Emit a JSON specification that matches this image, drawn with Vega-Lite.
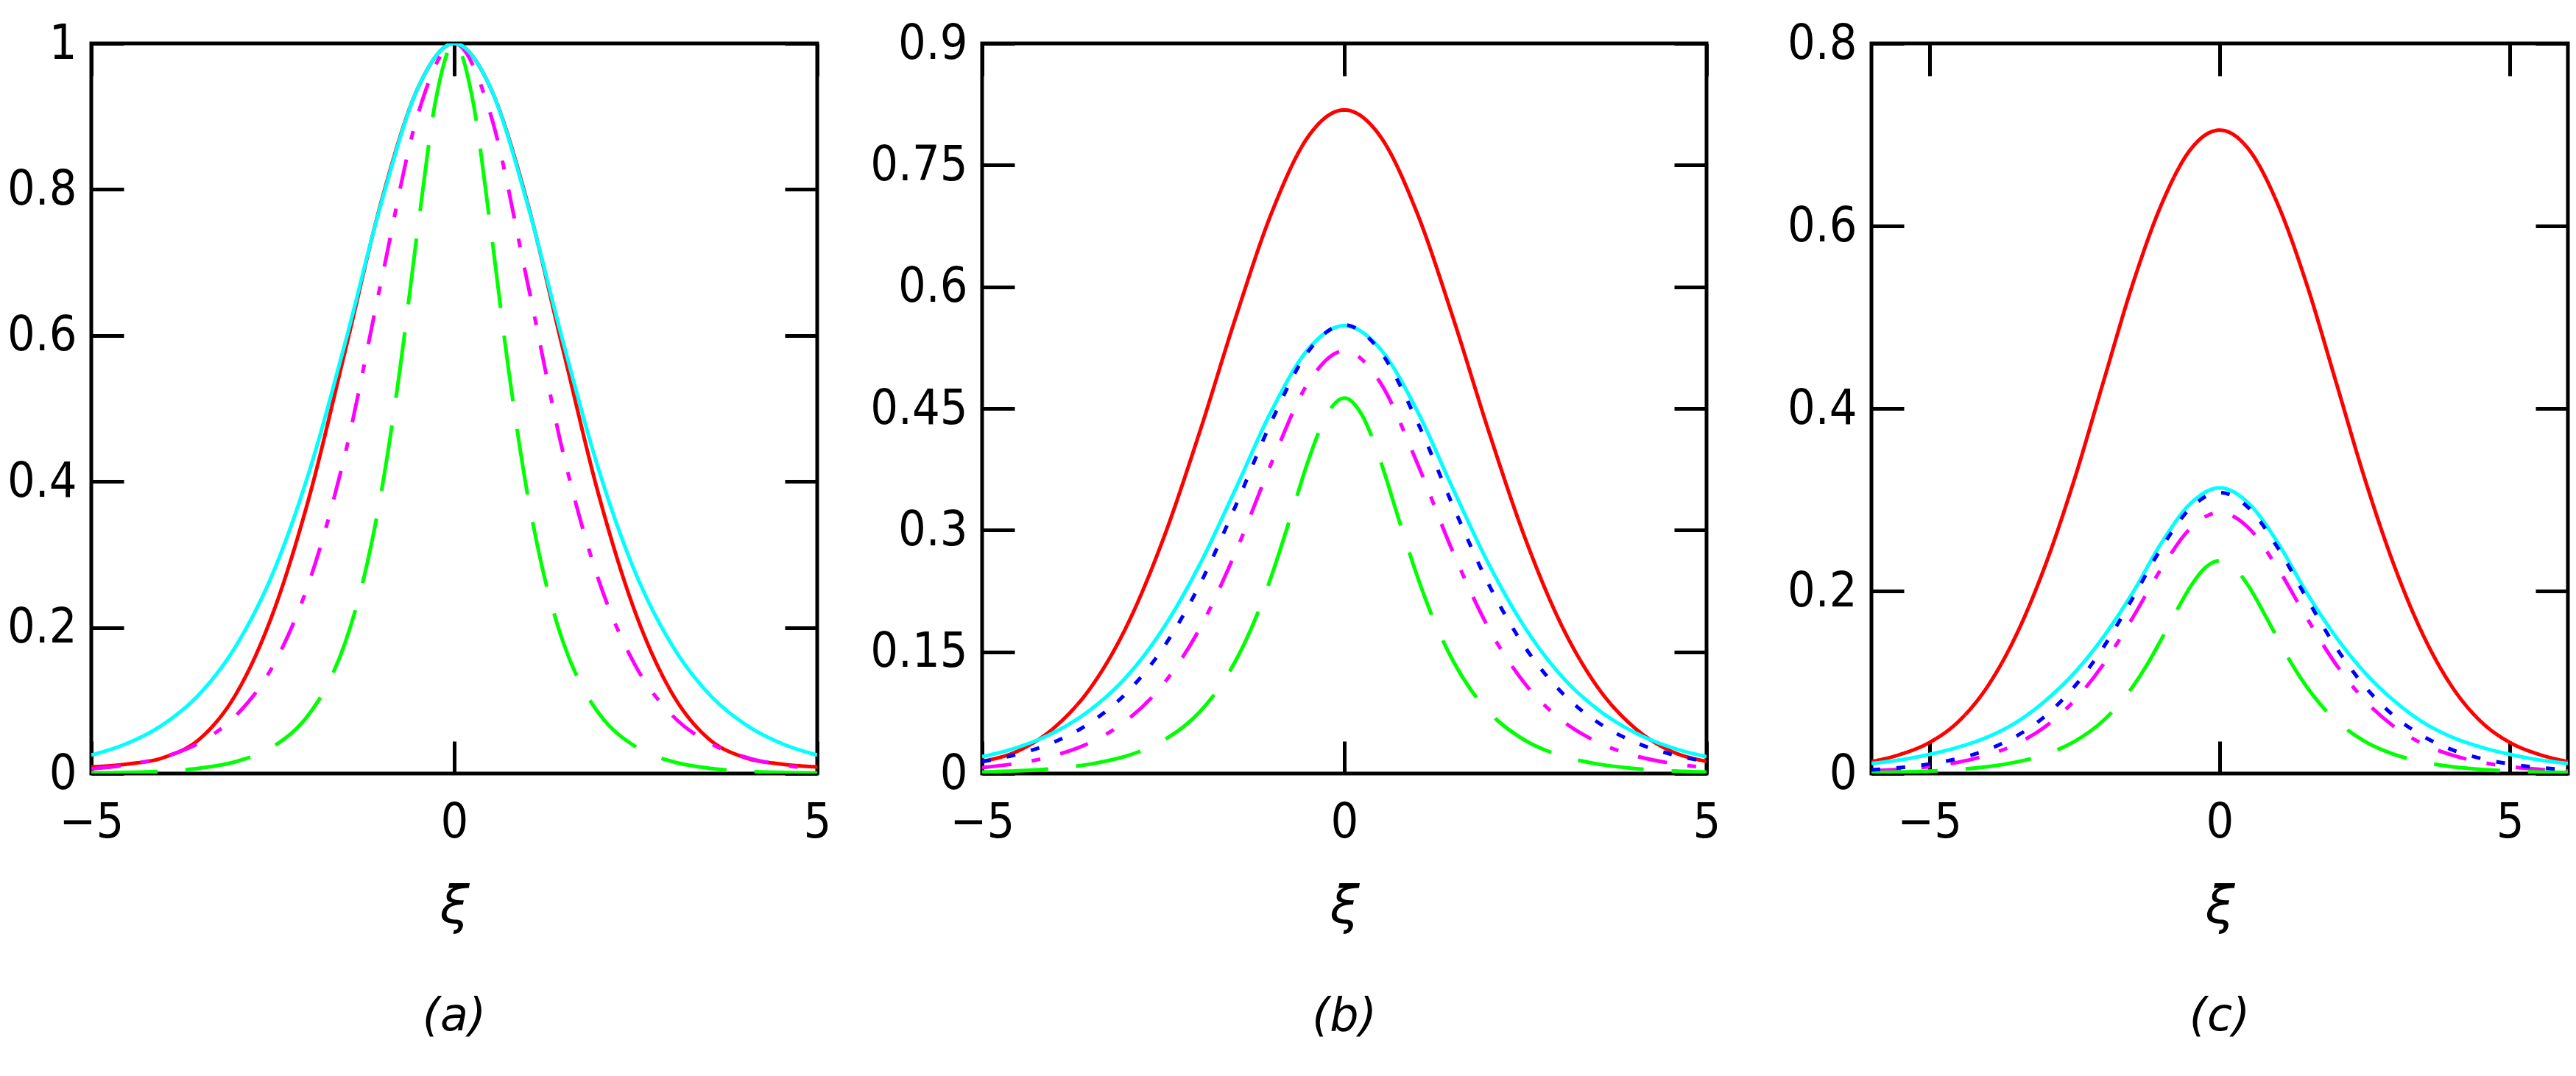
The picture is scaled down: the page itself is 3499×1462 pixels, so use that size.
{
  "$schema": "https://vega.github.io/schema/vega-lite/v6.json",
  "background": "white",
  "padding": {"left": 7, "top": 23, "right": 5, "bottom": 5},
  "spacing": 224,
  "bounds": "flush",
  "config": {
    "view": {"stroke": "black", "strokeWidth": 5},
    "axis": {
      "domain": false, "grid": false,
      "tickSize": -44, "tickWidth": 5, "tickColor": "black",
      "labelFont": "DejaVu Sans Condensed, Liberation Sans Narrow, DejaVu Sans",
      "labelFontSize": 66, "labelColor": "black",
      "labelFlush": false, "labelOverlap": false,
      "titleFont": "DejaVu Sans", "titleFontStyle": "italic", "titleFontWeight": "normal",
      "titleFontSize": 72, "titleColor": "black"
    },
    "axisY": {"labelPadding": 64},
    "axisX": {"labelPadding": 78, "titlePadding": 46},
    "title": {"font": "DejaVu Sans", "fontStyle": "italic", "fontWeight": "normal", "fontSize": 62, "color": "black", "orient": "bottom", "frame": "group", "offset": 84}
  },
  "datasets": {
    "A": [
      {"x": -5, "y": 0.009, "s": "red"}, {"x": -4.5, "y": 0.013, "s": "red"}, {"x": -4, "y": 0.022, "s": "red"}, {"x": -3.5, "y": 0.048, "s": "red"}, {"x": -3, "y": 0.11, "s": "red"}, {"x": -2.5, "y": 0.219, "s": "red"}, {"x": -2, "y": 0.378, "s": "red"}, {"x": -1.5, "y": 0.58, "s": "red"}, {"x": -1, "y": 0.785, "s": "red"}, {"x": -0.5, "y": 0.939, "s": "red"}, {"x": 0, "y": 1, "s": "red"}, {"x": 0.5, "y": 0.939, "s": "red"}, {"x": 1, "y": 0.785, "s": "red"}, {"x": 1.5, "y": 0.58, "s": "red"}, {"x": 2, "y": 0.378, "s": "red"}, {"x": 2.5, "y": 0.219, "s": "red"}, {"x": 3, "y": 0.11, "s": "red"}, {"x": 3.5, "y": 0.048, "s": "red"}, {"x": 4, "y": 0.022, "s": "red"}, {"x": 4.5, "y": 0.013, "s": "red"}, {"x": 5, "y": 0.009, "s": "red"},
      {"x": -5, "y": 0.0063, "s": "magenta"}, {"x": -4.5, "y": 0.012, "s": "magenta"}, {"x": -4, "y": 0.0227, "s": "magenta"}, {"x": -3.5, "y": 0.0428, "s": "magenta"}, {"x": -3, "y": 0.08, "s": "magenta"}, {"x": -2.5, "y": 0.147, "s": "magenta"}, {"x": -2, "y": 0.262, "s": "magenta"}, {"x": -1.5, "y": 0.439, "s": "magenta"}, {"x": -1, "y": 0.677, "s": "magenta"}, {"x": -0.5, "y": 0.903, "s": "magenta"}, {"x": 0, "y": 1, "s": "magenta"}, {"x": 0.5, "y": 0.903, "s": "magenta"}, {"x": 1, "y": 0.677, "s": "magenta"}, {"x": 1.5, "y": 0.439, "s": "magenta"}, {"x": 2, "y": 0.262, "s": "magenta"}, {"x": 2.5, "y": 0.147, "s": "magenta"}, {"x": 3, "y": 0.08, "s": "magenta"}, {"x": 3.5, "y": 0.0428, "s": "magenta"}, {"x": 4, "y": 0.0227, "s": "magenta"}, {"x": 4.5, "y": 0.012, "s": "magenta"}, {"x": 5, "y": 0.0063, "s": "magenta"},
      {"x": -5, "y": 0.0007, "s": "green"}, {"x": -4.5, "y": 0.0015, "s": "green"}, {"x": -4, "y": 0.0033, "s": "green"}, {"x": -3.5, "y": 0.0074, "s": "green"}, {"x": -3, "y": 0.0165, "s": "green"}, {"x": -2.5, "y": 0.0366, "s": "green"}, {"x": -2, "y": 0.0814, "s": "green"}, {"x": -1.75, "y": 0.121, "s": "green"}, {"x": -1.5, "y": 0.18, "s": "green"}, {"x": -1.25, "y": 0.266, "s": "green"}, {"x": -1, "y": 0.388, "s": "green"}, {"x": -0.75, "y": 0.552, "s": "green"}, {"x": -0.5, "y": 0.748, "s": "green"}, {"x": -0.25, "y": 0.925, "s": "green"}, {"x": 0, "y": 1, "s": "green"}, {"x": 0.25, "y": 0.925, "s": "green"}, {"x": 0.5, "y": 0.748, "s": "green"}, {"x": 0.75, "y": 0.552, "s": "green"}, {"x": 1, "y": 0.388, "s": "green"}, {"x": 1.25, "y": 0.266, "s": "green"}, {"x": 1.5, "y": 0.18, "s": "green"}, {"x": 1.75, "y": 0.121, "s": "green"}, {"x": 2, "y": 0.0814, "s": "green"}, {"x": 2.5, "y": 0.0366, "s": "green"}, {"x": 3, "y": 0.0165, "s": "green"}, {"x": 3.5, "y": 0.0074, "s": "green"}, {"x": 4, "y": 0.0033, "s": "green"}, {"x": 4.5, "y": 0.0015, "s": "green"}, {"x": 5, "y": 0.0007, "s": "green"},
      {"x": -5, "y": 0.0253, "s": "cyan"}, {"x": -4.5, "y": 0.0416, "s": "cyan"}, {"x": -4, "y": 0.068, "s": "cyan"}, {"x": -3.5, "y": 0.11, "s": "cyan"}, {"x": -3, "y": 0.176, "s": "cyan"}, {"x": -2.5, "y": 0.274, "s": "cyan"}, {"x": -2, "y": 0.413, "s": "cyan"}, {"x": -1.5, "y": 0.591, "s": "cyan"}, {"x": -1, "y": 0.783, "s": "cyan"}, {"x": -0.5, "y": 0.939, "s": "cyan"}, {"x": 0, "y": 1, "s": "cyan"}, {"x": 0.5, "y": 0.939, "s": "cyan"}, {"x": 1, "y": 0.783, "s": "cyan"}, {"x": 1.5, "y": 0.591, "s": "cyan"}, {"x": 2, "y": 0.413, "s": "cyan"}, {"x": 2.5, "y": 0.274, "s": "cyan"}, {"x": 3, "y": 0.176, "s": "cyan"}, {"x": 3.5, "y": 0.11, "s": "cyan"}, {"x": 4, "y": 0.068, "s": "cyan"}, {"x": 4.5, "y": 0.0416, "s": "cyan"}, {"x": 5, "y": 0.0253, "s": "cyan"}
    ],
    "B": [
      {"x": -5, "y": 0.015, "s": "red"}, {"x": -4.5, "y": 0.028, "s": "red"}, {"x": -4, "y": 0.0569, "s": "red"}, {"x": -3.5, "y": 0.106, "s": "red"}, {"x": -3, "y": 0.1825, "s": "red"}, {"x": -2.5, "y": 0.289, "s": "red"}, {"x": -2, "y": 0.42, "s": "red"}, {"x": -1.5, "y": 0.562, "s": "red"}, {"x": -1, "y": 0.692, "s": "red"}, {"x": -0.5, "y": 0.785, "s": "red"}, {"x": 0, "y": 0.818, "s": "red"}, {"x": 0.5, "y": 0.785, "s": "red"}, {"x": 1, "y": 0.692, "s": "red"}, {"x": 1.5, "y": 0.562, "s": "red"}, {"x": 2, "y": 0.42, "s": "red"}, {"x": 2.5, "y": 0.289, "s": "red"}, {"x": 3, "y": 0.1825, "s": "red"}, {"x": 3.5, "y": 0.106, "s": "red"}, {"x": 4, "y": 0.0569, "s": "red"}, {"x": 4.5, "y": 0.028, "s": "red"}, {"x": 5, "y": 0.015, "s": "red"},
      {"x": -5, "y": 0.0073, "s": "magenta"}, {"x": -4.5, "y": 0.0128, "s": "magenta"}, {"x": -4, "y": 0.0222, "s": "magenta"}, {"x": -3.5, "y": 0.0385, "s": "magenta"}, {"x": -3, "y": 0.0658, "s": "magenta"}, {"x": -2.5, "y": 0.11, "s": "magenta"}, {"x": -2, "y": 0.178, "s": "magenta"}, {"x": -1.5, "y": 0.273, "s": "magenta"}, {"x": -1, "y": 0.384, "s": "magenta"}, {"x": -0.5, "y": 0.4815, "s": "magenta"}, {"x": 0, "y": 0.521, "s": "magenta"}, {"x": 0.5, "y": 0.4815, "s": "magenta"}, {"x": 1, "y": 0.384, "s": "magenta"}, {"x": 1.5, "y": 0.273, "s": "magenta"}, {"x": 2, "y": 0.178, "s": "magenta"}, {"x": 2.5, "y": 0.11, "s": "magenta"}, {"x": 3, "y": 0.0658, "s": "magenta"}, {"x": 3.5, "y": 0.0385, "s": "magenta"}, {"x": 4, "y": 0.0222, "s": "magenta"}, {"x": 4.5, "y": 0.0128, "s": "magenta"}, {"x": 5, "y": 0.0073, "s": "magenta"},
      {"x": -5, "y": 0.0018, "s": "green"}, {"x": -4.5, "y": 0.0033, "s": "green"}, {"x": -4, "y": 0.0062, "s": "green"}, {"x": -3.5, "y": 0.0117, "s": "green"}, {"x": -3, "y": 0.0218, "s": "green"}, {"x": -2.5, "y": 0.0406, "s": "green"}, {"x": -2, "y": 0.0755, "s": "green"}, {"x": -1.75, "y": 0.1027, "s": "green"}, {"x": -1.5, "y": 0.139, "s": "green"}, {"x": -1.25, "y": 0.186, "s": "green"}, {"x": -1, "y": 0.245, "s": "green"}, {"x": -0.75, "y": 0.314, "s": "green"}, {"x": -0.5, "y": 0.385, "s": "green"}, {"x": -0.25, "y": 0.441, "s": "green"}, {"x": 0, "y": 0.463, "s": "green"}, {"x": 0.25, "y": 0.441, "s": "green"}, {"x": 0.5, "y": 0.385, "s": "green"}, {"x": 0.75, "y": 0.314, "s": "green"}, {"x": 1, "y": 0.245, "s": "green"}, {"x": 1.25, "y": 0.186, "s": "green"}, {"x": 1.5, "y": 0.139, "s": "green"}, {"x": 1.75, "y": 0.1027, "s": "green"}, {"x": 2, "y": 0.0755, "s": "green"}, {"x": 2.5, "y": 0.0406, "s": "green"}, {"x": 3, "y": 0.0218, "s": "green"}, {"x": 3.5, "y": 0.0117, "s": "green"}, {"x": 4, "y": 0.0062, "s": "green"}, {"x": 4.5, "y": 0.0033, "s": "green"}, {"x": 5, "y": 0.0018, "s": "green"},
      {"x": -5, "y": 0.0207, "s": "cyan"}, {"x": -4.5, "y": 0.0326, "s": "cyan"}, {"x": -4, "y": 0.051, "s": "cyan"}, {"x": -3.5, "y": 0.079, "s": "cyan"}, {"x": -3, "y": 0.12, "s": "cyan"}, {"x": -2.5, "y": 0.179, "s": "cyan"}, {"x": -2, "y": 0.257, "s": "cyan"}, {"x": -1.5, "y": 0.351, "s": "cyan"}, {"x": -1, "y": 0.448, "s": "cyan"}, {"x": -0.5, "y": 0.523, "s": "cyan"}, {"x": 0, "y": 0.552, "s": "cyan"}, {"x": 0.5, "y": 0.523, "s": "cyan"}, {"x": 1, "y": 0.448, "s": "cyan"}, {"x": 1.5, "y": 0.351, "s": "cyan"}, {"x": 2, "y": 0.257, "s": "cyan"}, {"x": 2.5, "y": 0.179, "s": "cyan"}, {"x": 3, "y": 0.12, "s": "cyan"}, {"x": 3.5, "y": 0.079, "s": "cyan"}, {"x": 4, "y": 0.051, "s": "cyan"}, {"x": 4.5, "y": 0.0326, "s": "cyan"}, {"x": 5, "y": 0.0207, "s": "cyan"},
      {"x": -5, "y": 0.0147, "s": "blue"}, {"x": -4.5, "y": 0.024, "s": "blue"}, {"x": -4, "y": 0.039, "s": "blue"}, {"x": -3.5, "y": 0.063, "s": "blue"}, {"x": -3, "y": 0.1, "s": "blue"}, {"x": -2.5, "y": 0.155, "s": "blue"}, {"x": -2, "y": 0.232, "s": "blue"}, {"x": -1.5, "y": 0.33, "s": "blue"}, {"x": -1, "y": 0.435, "s": "blue"}, {"x": -0.5, "y": 0.52, "s": "blue"}, {"x": 0, "y": 0.553, "s": "blue"}, {"x": 0.5, "y": 0.52, "s": "blue"}, {"x": 1, "y": 0.435, "s": "blue"}, {"x": 1.5, "y": 0.33, "s": "blue"}, {"x": 2, "y": 0.232, "s": "blue"}, {"x": 2.5, "y": 0.155, "s": "blue"}, {"x": 3, "y": 0.1, "s": "blue"}, {"x": 3.5, "y": 0.063, "s": "blue"}, {"x": 4, "y": 0.039, "s": "blue"}, {"x": 4.5, "y": 0.024, "s": "blue"}, {"x": 5, "y": 0.0147, "s": "blue"}
    ],
    "C": [
      {"x": -6, "y": 0.013, "s": "red"}, {"x": -5.5, "y": 0.021, "s": "red"}, {"x": -5, "y": 0.034, "s": "red"}, {"x": -4.5, "y": 0.057, "s": "red"}, {"x": -4, "y": 0.0954, "s": "red"}, {"x": -3.5, "y": 0.1525, "s": "red"}, {"x": -3, "y": 0.229, "s": "red"}, {"x": -2.5, "y": 0.323, "s": "red"}, {"x": -2, "y": 0.43, "s": "red"}, {"x": -1.5, "y": 0.536, "s": "red"}, {"x": -1, "y": 0.624, "s": "red"}, {"x": -0.5, "y": 0.684, "s": "red"}, {"x": 0, "y": 0.705, "s": "red"}, {"x": 0.5, "y": 0.684, "s": "red"}, {"x": 1, "y": 0.624, "s": "red"}, {"x": 1.5, "y": 0.536, "s": "red"}, {"x": 2, "y": 0.43, "s": "red"}, {"x": 2.5, "y": 0.323, "s": "red"}, {"x": 3, "y": 0.229, "s": "red"}, {"x": 3.5, "y": 0.1525, "s": "red"}, {"x": 4, "y": 0.0954, "s": "red"}, {"x": 4.5, "y": 0.057, "s": "red"}, {"x": 5, "y": 0.034, "s": "red"}, {"x": 5.5, "y": 0.021, "s": "red"}, {"x": 6, "y": 0.013, "s": "red"},
      {"x": -6, "y": 0.0028, "s": "magenta"}, {"x": -5.5, "y": 0.0046, "s": "magenta"}, {"x": -5, "y": 0.0076, "s": "magenta"}, {"x": -4.5, "y": 0.0124, "s": "magenta"}, {"x": -4, "y": 0.0202, "s": "magenta"}, {"x": -3.5, "y": 0.0325, "s": "magenta"}, {"x": -3, "y": 0.0517, "s": "magenta"}, {"x": -2.5, "y": 0.0802, "s": "magenta"}, {"x": -2, "y": 0.12, "s": "magenta"}, {"x": -1.5, "y": 0.1706, "s": "magenta"}, {"x": -1, "y": 0.225, "s": "magenta"}, {"x": -0.5, "y": 0.269, "s": "magenta"}, {"x": 0, "y": 0.286, "s": "magenta"}, {"x": 0.5, "y": 0.269, "s": "magenta"}, {"x": 1, "y": 0.225, "s": "magenta"}, {"x": 1.5, "y": 0.1706, "s": "magenta"}, {"x": 2, "y": 0.12, "s": "magenta"}, {"x": 2.5, "y": 0.0802, "s": "magenta"}, {"x": 3, "y": 0.0517, "s": "magenta"}, {"x": 3.5, "y": 0.0325, "s": "magenta"}, {"x": 4, "y": 0.0202, "s": "magenta"}, {"x": 4.5, "y": 0.0124, "s": "magenta"}, {"x": 5, "y": 0.0076, "s": "magenta"}, {"x": 5.5, "y": 0.0046, "s": "magenta"}, {"x": 6, "y": 0.0028, "s": "magenta"},
      {"x": -6, "y": 0.001, "s": "green"}, {"x": -5.5, "y": 0.0016, "s": "green"}, {"x": -5, "y": 0.0027, "s": "green"}, {"x": -4.5, "y": 0.0045, "s": "green"}, {"x": -4, "y": 0.0075, "s": "green"}, {"x": -3.5, "y": 0.0126, "s": "green"}, {"x": -3, "y": 0.0211, "s": "green"}, {"x": -2.5, "y": 0.0352, "s": "green"}, {"x": -2, "y": 0.0583, "s": "green"}, {"x": -1.75, "y": 0.0747, "s": "green"}, {"x": -1.5, "y": 0.0949, "s": "green"}, {"x": -1.25, "y": 0.1193, "s": "green"}, {"x": -1, "y": 0.1477, "s": "green"}, {"x": -0.75, "y": 0.1773, "s": "green"}, {"x": -0.5, "y": 0.2051, "s": "green"}, {"x": -0.25, "y": 0.2255, "s": "green"}, {"x": 0, "y": 0.233, "s": "green"}, {"x": 0.25, "y": 0.2255, "s": "green"}, {"x": 0.5, "y": 0.2051, "s": "green"}, {"x": 0.75, "y": 0.1773, "s": "green"}, {"x": 1, "y": 0.1477, "s": "green"}, {"x": 1.25, "y": 0.1193, "s": "green"}, {"x": 1.5, "y": 0.0949, "s": "green"}, {"x": 1.75, "y": 0.0747, "s": "green"}, {"x": 2, "y": 0.0583, "s": "green"}, {"x": 2.5, "y": 0.0352, "s": "green"}, {"x": 3, "y": 0.0211, "s": "green"}, {"x": 3.5, "y": 0.0126, "s": "green"}, {"x": 4, "y": 0.0075, "s": "green"}, {"x": 4.5, "y": 0.0045, "s": "green"}, {"x": 5, "y": 0.0027, "s": "green"}, {"x": 5.5, "y": 0.0016, "s": "green"}, {"x": 6, "y": 0.001, "s": "green"},
      {"x": -6, "y": 0.011, "s": "cyan"}, {"x": -5.5, "y": 0.015, "s": "cyan"}, {"x": -5, "y": 0.021, "s": "cyan"}, {"x": -4.5, "y": 0.029, "s": "cyan"}, {"x": -4, "y": 0.04, "s": "cyan"}, {"x": -3.5, "y": 0.0563, "s": "cyan"}, {"x": -3, "y": 0.08, "s": "cyan"}, {"x": -2.5, "y": 0.1106, "s": "cyan"}, {"x": -2, "y": 0.15, "s": "cyan"}, {"x": -1.5, "y": 0.198, "s": "cyan"}, {"x": -1, "y": 0.253, "s": "cyan"}, {"x": -0.5, "y": 0.296, "s": "cyan"}, {"x": 0, "y": 0.313, "s": "cyan"}, {"x": 0.5, "y": 0.296, "s": "cyan"}, {"x": 1, "y": 0.253, "s": "cyan"}, {"x": 1.5, "y": 0.198, "s": "cyan"}, {"x": 2, "y": 0.15, "s": "cyan"}, {"x": 2.5, "y": 0.1106, "s": "cyan"}, {"x": 3, "y": 0.08, "s": "cyan"}, {"x": 3.5, "y": 0.0563, "s": "cyan"}, {"x": 4, "y": 0.04, "s": "cyan"}, {"x": 4.5, "y": 0.029, "s": "cyan"}, {"x": 5, "y": 0.021, "s": "cyan"}, {"x": 5.5, "y": 0.015, "s": "cyan"}, {"x": 6, "y": 0.011, "s": "cyan"},
      {"x": -6, "y": 0.0041, "s": "blue"}, {"x": -5.5, "y": 0.0065, "s": "blue"}, {"x": -5, "y": 0.0104, "s": "blue"}, {"x": -4.5, "y": 0.0165, "s": "blue"}, {"x": -4, "y": 0.0261, "s": "blue"}, {"x": -3.5, "y": 0.0411, "s": "blue"}, {"x": -3, "y": 0.0633, "s": "blue"}, {"x": -2.5, "y": 0.0955, "s": "blue"}, {"x": -2, "y": 0.1387, "s": "blue"}, {"x": -1.5, "y": 0.192, "s": "blue"}, {"x": -1, "y": 0.2475, "s": "blue"}, {"x": -0.5, "y": 0.291, "s": "blue"}, {"x": 0, "y": 0.308, "s": "blue"}, {"x": 0.5, "y": 0.291, "s": "blue"}, {"x": 1, "y": 0.2475, "s": "blue"}, {"x": 1.5, "y": 0.192, "s": "blue"}, {"x": 2, "y": 0.1387, "s": "blue"}, {"x": 2.5, "y": 0.0955, "s": "blue"}, {"x": 3, "y": 0.0633, "s": "blue"}, {"x": 3.5, "y": 0.0411, "s": "blue"}, {"x": 4, "y": 0.0261, "s": "blue"}, {"x": 4.5, "y": 0.0165, "s": "blue"}, {"x": 5, "y": 0.0104, "s": "blue"}, {"x": 5.5, "y": 0.0065, "s": "blue"}, {"x": 6, "y": 0.0041, "s": "blue"}
    ]
  },
  "hconcat": [
    {
      "width": 986, "height": 992,
      "data": {"name": "A"},
      "title": {"text": "(a)"},
      "layer": [
        {
          "mark": {"type": "line", "clip": true, "interpolate": "monotone"},
          "encoding": {
            "x": {"field": "x", "type": "quantitative", "scale": {"domain": [-5, 5], "nice": false, "zero": false}, "axis": {"orient": "bottom", "values": [-5, 0, 5], "format": ".2~g", "title": "ξ"}},
            "y": {"field": "y", "type": "quantitative", "scale": {"domain": [0, 1], "nice": false}, "axis": {"orient": "left", "values": [0, 0.2, 0.4, 0.6, 0.8, 1], "format": ".2~g", "title": null}},
            "color": {"field": "s", "type": "nominal", "scale": {"domain": ["red", "magenta", "green", "cyan", "blue"], "range": ["#ff0000", "#ff00ff", "#00ff00", "#00ffff", "#0000ff"]}, "legend": null},
            "strokeDash": {"field": "s", "type": "nominal", "scale": {"domain": ["red", "magenta", "green", "cyan", "blue"], "range": [[1, 0], [40, 28, 12, 28], [90, 38], [1, 0], [12, 22]]}, "legend": null},
            "size": {"field": "s", "type": "nominal", "scale": {"domain": ["red", "magenta", "green", "cyan", "blue"], "range": [5, 5, 5, 5, 12]}, "legend": null}
          }
        },
        {
          "mark": {"type": "point", "opacity": 0},
          "encoding": {
            "x": {"field": "x", "type": "quantitative", "axis": {"orient": "top", "values": [-5, 0, 5], "labels": false, "title": null}},
            "y": {"field": "y", "type": "quantitative", "axis": {"orient": "right", "values": [0, 0.2, 0.4, 0.6, 0.8, 1], "labels": false, "title": null}}
          }
        }
      ],
      "resolve": {"axis": {"x": "independent", "y": "independent"}}
    },
    {
      "width": 984, "height": 992,
      "data": {"name": "B"},
      "title": {"text": "(b)"},
      "layer": [
        {
          "mark": {"type": "line", "clip": true, "interpolate": "monotone"},
          "encoding": {
            "x": {"field": "x", "type": "quantitative", "scale": {"domain": [-5, 5], "nice": false, "zero": false}, "axis": {"orient": "bottom", "values": [-5, 0, 5], "format": ".2~g", "title": "ξ"}},
            "y": {"field": "y", "type": "quantitative", "scale": {"domain": [0, 0.9], "nice": false}, "axis": {"orient": "left", "values": [0, 0.15, 0.3, 0.45, 0.6, 0.75, 0.9], "format": ".2~g", "title": null}},
            "color": {"field": "s", "type": "nominal", "scale": {"domain": ["red", "magenta", "green", "cyan", "blue"], "range": ["#ff0000", "#ff00ff", "#00ff00", "#00ffff", "#0000ff"]}, "legend": null},
            "strokeDash": {"field": "s", "type": "nominal", "scale": {"domain": ["red", "magenta", "green", "cyan", "blue"], "range": [[1, 0], [40, 28, 12, 28], [90, 38], [1, 0], [12, 22]]}, "legend": null},
            "size": {"field": "s", "type": "nominal", "scale": {"domain": ["red", "magenta", "green", "cyan", "blue"], "range": [5, 5, 5, 5, 12]}, "legend": null}
          }
        },
        {
          "mark": {"type": "point", "opacity": 0},
          "encoding": {
            "x": {"field": "x", "type": "quantitative", "axis": {"orient": "top", "values": [-5, 0, 5], "labels": false, "title": null}},
            "y": {"field": "y", "type": "quantitative", "axis": {"orient": "right", "values": [0, 0.15, 0.3, 0.45, 0.6, 0.75, 0.9], "labels": false, "title": null}}
          }
        }
      ],
      "resolve": {"axis": {"x": "independent", "y": "independent"}}
    },
    {
      "width": 946, "height": 992,
      "data": {"name": "C"},
      "title": {"text": "(c)"},
      "layer": [
        {
          "mark": {"type": "line", "clip": true, "interpolate": "monotone"},
          "encoding": {
            "x": {"field": "x", "type": "quantitative", "scale": {"domain": [-6, 6], "nice": false, "zero": false}, "axis": {"orient": "bottom", "values": [-5, 0, 5], "format": ".2~g", "title": "ξ"}},
            "y": {"field": "y", "type": "quantitative", "scale": {"domain": [0, 0.8], "nice": false}, "axis": {"orient": "left", "values": [0, 0.2, 0.4, 0.6, 0.8], "format": ".2~g", "title": null}},
            "color": {"field": "s", "type": "nominal", "scale": {"domain": ["red", "magenta", "green", "cyan", "blue"], "range": ["#ff0000", "#ff00ff", "#00ff00", "#00ffff", "#0000ff"]}, "legend": null},
            "strokeDash": {"field": "s", "type": "nominal", "scale": {"domain": ["red", "magenta", "green", "cyan", "blue"], "range": [[1, 0], [40, 28, 12, 28], [90, 38], [1, 0], [12, 22]]}, "legend": null},
            "size": {"field": "s", "type": "nominal", "scale": {"domain": ["red", "magenta", "green", "cyan", "blue"], "range": [5, 5, 5, 5, 12]}, "legend": null}
          }
        },
        {
          "mark": {"type": "point", "opacity": 0},
          "encoding": {
            "x": {"field": "x", "type": "quantitative", "axis": {"orient": "top", "values": [-5, 0, 5], "labels": false, "title": null}},
            "y": {"field": "y", "type": "quantitative", "axis": {"orient": "right", "values": [0, 0.2, 0.4, 0.6, 0.8], "labels": false, "title": null}}
          }
        }
      ],
      "resolve": {"axis": {"x": "independent", "y": "independent"}}
    }
  ]
}
